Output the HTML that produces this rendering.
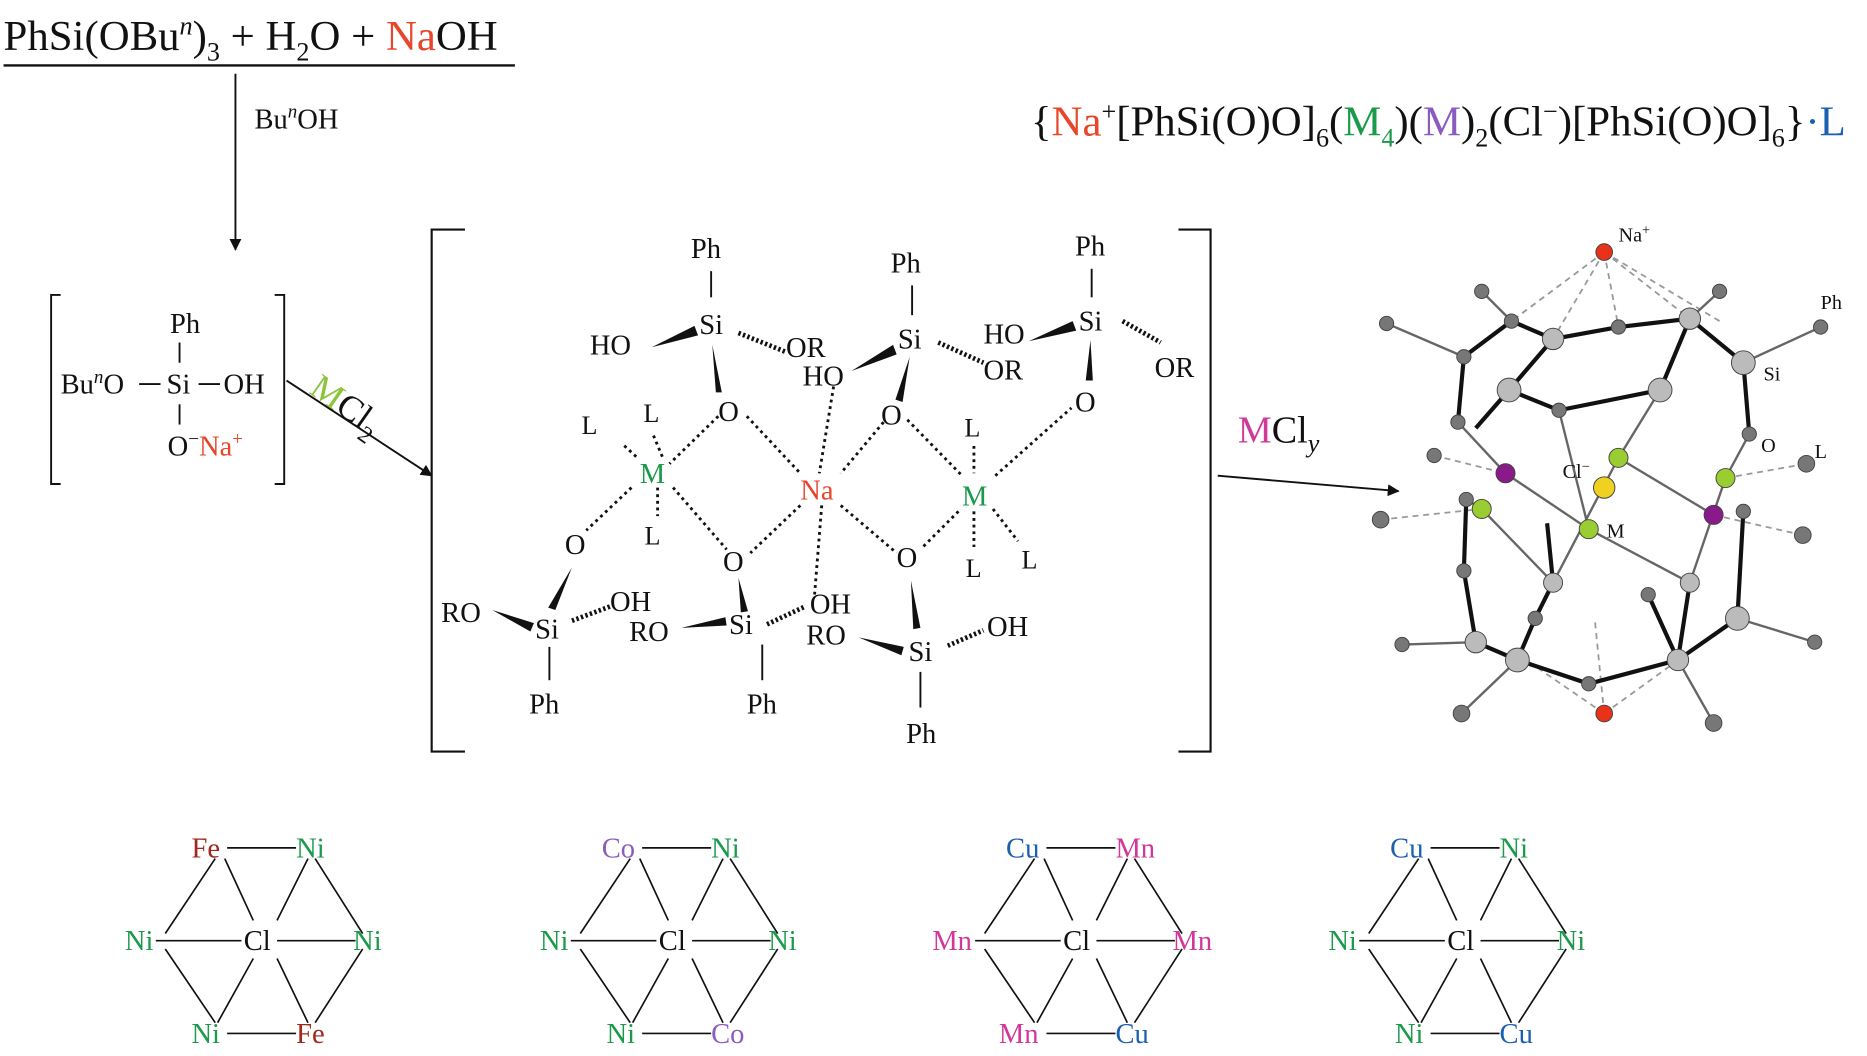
<!DOCTYPE html>
<html><head><meta charset="utf-8"><style>
html,body{margin:0;padding:0;background:#fff;}
svg{display:block;}
text{font-family:"Liberation Serif",serif;fill:#111;}
.g{fill:#1a9a4a}.r{fill:#e8452a}.b{fill:#1a5fb0}.p{fill:#8a5cc0}.m{fill:#d0399a}.br{fill:#a0281c}.lg{fill:#8cc43c}
</style></head><body>
<svg width="1867" height="1056" viewBox="0 0 1568 888" xmlns="http://www.w3.org/2000/svg">
<defs><marker id="ah" markerWidth="10" markerHeight="10" refX="9" refY="5" orient="auto" markerUnits="userSpaceOnUse"><path d="M0,0 L10,5 L0,10 z" fill="#111"/></marker></defs>
<text x="2" y="42" font-size="36">PhSi(OBu<tspan font-style="italic" font-size="22" dy="-13">n</tspan><tspan dy="13">)</tspan><tspan font-size="22" dy="9">3</tspan><tspan dy="-9"> + H</tspan><tspan font-size="22" dy="9">2</tspan><tspan dy="-9">O + </tspan><tspan class="r">Na</tspan>OH</text>
<line x1="2" y1="55" x2="432" y2="55" stroke="#111" stroke-width="2"/>
<line x1="197" y1="62" x2="197" y2="210" stroke="#111" stroke-width="1.6" marker-end="url(#ah)"/>
<text x="213" y="108" font-size="24">Bu<tspan font-style="italic" font-size="16" dy="-9">n</tspan><tspan dy="9">OH</tspan></text>
<path d="M50,248 H42 V407 H50 M230,248 H238 V407 H230" fill="none" stroke="#111" stroke-width="1.6"/>
<text x="142" y="280" font-size="24">Ph</text>
<line x1="150" y1="288" x2="150" y2="305" stroke="#111" stroke-width="1.6"/>
<text x="50" y="331" font-size="24">Bu<tspan font-style="italic" font-size="16" dy="-9">n</tspan><tspan dy="9">O</tspan></text>
<line x1="116" y1="323" x2="134" y2="323" stroke="#111" stroke-width="1.6"/>
<text x="139" y="331" font-size="24">Si</text>
<line x1="166" y1="323" x2="184" y2="323" stroke="#111" stroke-width="1.6"/>
<text x="187" y="331" font-size="24">OH</text>
<line x1="150" y1="340" x2="150" y2="357" stroke="#111" stroke-width="1.6"/>
<text x="140" y="383" font-size="24">O<tspan font-size="16" dy="-9">−</tspan><tspan dy="9" class="r">Na</tspan><tspan class="r" font-size="16" dy="-9">+</tspan></text>
<text x="0" y="0" font-size="30" transform="translate(258,330) rotate(35)"><tspan class="lg">M</tspan>Cl<tspan font-size="20" dy="8">2</tspan></text>
<line x1="240" y1="320" x2="362" y2="400" stroke="#111" stroke-width="1.6" marker-end="url(#ah)"/>
<path d="M390,193 H362 V632 H390 M990,193 H1017 V632 H990" fill="none" stroke="#111" stroke-width="1.8"/>
<g font-size="24">
<text x="580" y="217">Ph</text><line x1="597" y1="228" x2="597" y2="250" stroke="#111" stroke-width="1.6"/>
<text x="587" y="281">Si</text>
<text x="495" y="298">HO</text><path d="M547,292 L583,274 L586,282 z" fill="#111"/>
<line x1="620" y1="280" x2="660" y2="296" stroke="#111" stroke-width="4" stroke-dasharray="2,2"/>
<text x="660" y="300">OR</text>
<path d="M598,290 L606,330 L601,330 z" fill="#111"/>
<text x="603" y="354">O</text>
<text x="748" y="229">Ph</text><line x1="766" y1="240" x2="766" y2="265" stroke="#111" stroke-width="1.6"/>
<text x="754" y="293">Si</text>
<text x="674" y="324">HO</text><path d="M715,312 L750,290 L753,298 z" fill="#111"/>
<line x1="788" y1="288" x2="826" y2="305" stroke="#111" stroke-width="4" stroke-dasharray="2,2"/>
<text x="826" y="319">OR</text>
<path d="M764,300 L758,338 L752,336 z" fill="#111"/>
<text x="740" y="357">O</text>
<text x="903" y="215">Ph</text><line x1="917" y1="226" x2="917" y2="250" stroke="#111" stroke-width="1.6"/>
<text x="906" y="278">Si</text>
<text x="826" y="289">HO</text><path d="M864,287 L901,270 L904,278 z" fill="#111"/>
<line x1="943" y1="270" x2="975" y2="288" stroke="#111" stroke-width="4" stroke-dasharray="2,2"/>
<text x="970" y="317">OR</text>
<path d="M916,286 L918,320 L912,320 z" fill="#111"/>
<text x="903" y="346">O</text>
<text x="537" y="406" class="g">M</text>
<text x="808" y="425" class="g">M</text>
<text x="672" y="420" class="r">Na</text>
<g class="b" font-size="22"><text x="488" y="365">L</text><text x="540" y="355">L</text><text x="541" y="458">L</text>
<text x="810" y="367">L</text><text x="811" y="485">L</text><text x="858" y="478">L</text></g>
<text x="474" y="466">O</text>
<text x="607" y="480">O</text>
<text x="753" y="477">O</text>
<text x="370" y="523">RO</text><text x="449" y="537">Si</text>
<path d="M413,513 L448,524 L445,531 z" fill="#111"/>
<line x1="480" y1="522" x2="512" y2="510" stroke="#111" stroke-width="4" stroke-dasharray="2,2"/>
<text x="512" y="514">OH</text>
<path d="M480,477 L466,513 L460,511 z" fill="#111"/>
<line x1="461" y1="544" x2="461" y2="572" stroke="#111" stroke-width="1.6"/>
<text x="444" y="600">Ph</text>
<text x="528" y="539">RO</text><text x="612" y="533">Si</text>
<path d="M572,528 L609,519 L610,526 z" fill="#111"/>
<line x1="644" y1="525" x2="676" y2="510" stroke="#111" stroke-width="4" stroke-dasharray="2,2"/>
<text x="680" y="516">OH</text>
<path d="M620,486 L628,514 L622,515 z" fill="#111"/>
<line x1="640" y1="542" x2="640" y2="572" stroke="#111" stroke-width="1.6"/>
<text x="627" y="600">Ph</text>
<text x="677" y="542">RO</text><text x="763" y="556">Si</text>
<path d="M721,536 L759,544 L757,551 z" fill="#111"/>
<line x1="796" y1="543" x2="826" y2="530" stroke="#111" stroke-width="4" stroke-dasharray="2,2"/>
<text x="829" y="535">OH</text>
<path d="M765,488 L773,528 L767,529 z" fill="#111"/>
<line x1="773" y1="565" x2="773" y2="595" stroke="#111" stroke-width="1.6"/>
<text x="761" y="625">Ph</text>
</g>
<g stroke="#111" stroke-width="2.4" stroke-dasharray="2.4,3.2" fill="none">
<line x1="603" y1="350" x2="562" y2="390"/><line x1="534" y1="384" x2="522" y2="373"/><line x1="556" y1="384" x2="548" y2="365"/><line x1="552" y1="410" x2="552" y2="434"/>
<line x1="530" y1="410" x2="492" y2="446"/><line x1="565" y1="410" x2="610" y2="462"/>
<line x1="627" y1="350" x2="672" y2="398"/><line x1="700" y1="325" x2="688" y2="398"/><line x1="742" y1="355" x2="706" y2="398"/>
<line x1="690" y1="425" x2="684" y2="500"/><line x1="672" y1="425" x2="630" y2="465"/><line x1="706" y1="425" x2="753" y2="465"/>
<line x1="762" y1="353" x2="808" y2="400"/><line x1="836" y1="400" x2="900" y2="343"/><line x1="818" y1="375" x2="818" y2="398"/>
<line x1="818" y1="430" x2="818" y2="460"/><line x1="834" y1="428" x2="855" y2="455"/><line x1="805" y1="430" x2="775" y2="460"/>
</g>
<text x="866" y="114" font-size="36">{<tspan class="r">Na</tspan><tspan font-size="22" dy="-13">+</tspan><tspan dy="13">[PhSi(O)O]</tspan><tspan font-size="22" dy="9">6</tspan><tspan dy="-9">(</tspan><tspan class="g">M</tspan><tspan font-size="22" dy="9" class="g">4</tspan><tspan dy="-9">)(</tspan><tspan class="p">M</tspan>)<tspan font-size="22" dy="9">2</tspan><tspan dy="-9">(Cl</tspan><tspan font-size="22" dy="-13">−</tspan><tspan dy="13">)[PhSi(O)O]</tspan><tspan font-size="22" dy="9">6</tspan><tspan dy="-9">}</tspan><tspan class="b">·L</tspan></text>
<text x="1040" y="372" font-size="32"><tspan class="m">M</tspan>Cl<tspan font-size="22" dy="8" font-style="italic">y</tspan></text>
<line x1="1023" y1="400" x2="1175" y2="413" stroke="#111" stroke-width="1.6" marker-end="url(#ah)"/>
<g stroke="#999" stroke-width="1.5" stroke-dasharray="5,4" fill="none">
<path d="M1348,212 L1270,270 M1348,212 L1305,285 M1348,212 L1360,275 M1348,212 L1420,268 M1348,212 L1445,270 M1348,212 L1230,300"/>
<path d="M1348,600 L1275,550 M1348,600 L1420,548 M1348,600 L1340,520 M1160,437 L1245,428 M1205,383 L1265,398 M1450,402 L1518,390 M1440,433 L1515,450"/>
</g>
<g stroke="#111" stroke-width="3.5" fill="none">
<path d="M1270,270 L1305,285 L1360,275 L1420,268 L1465,305 L1470,365 M1270,270 L1230,300 L1225,355 M1305,285 L1268,328 L1310,345 L1395,328 L1420,268 M1268,328 L1240,360"/>
<path d="M1240,540 L1275,555 L1335,575 L1410,555 L1460,520 L1465,430 M1240,540 L1230,480 L1232,420 M1275,555 L1290,520 M1410,555 L1385,500 M1305,490 L1290,520 M1300,440 L1305,490 M1420,490 L1410,555"/>
</g>
<g stroke="#666" stroke-width="2" fill="none">
<path d="M1310,345 L1335,445 L1420,490 M1395,328 L1360,385 L1305,490 M1265,398 L1335,445 M1440,433 L1360,385 M1245,428 L1305,490 M1450,402 L1420,490 M1265,398 L1225,355 M1450,402 L1470,365 M1245,428 L1232,420"/>
<path d="M1465,305 L1530,275 M1230,300 L1165,272 M1270,270 L1245,245 M1420,268 L1445,245 M1240,540 L1178,542 M1460,520 L1525,540 M1275,555 L1228,600 M1410,555 L1440,608"/>
</g>
<g stroke="#444" stroke-width="0.8">
<g fill="#bbb"><circle cx="1305" cy="285" r="9"/><circle cx="1420" cy="268" r="9"/><circle cx="1465" cy="305" r="10"/><circle cx="1268" cy="328" r="10"/><circle cx="1395" cy="328" r="10"/><circle cx="1275" cy="555" r="10"/><circle cx="1410" cy="555" r="9"/><circle cx="1240" cy="540" r="9"/><circle cx="1460" cy="520" r="10"/><circle cx="1305" cy="490" r="8"/><circle cx="1420" cy="490" r="8"/></g>
<g fill="#777"><circle cx="1270" cy="270" r="6"/><circle cx="1360" cy="275" r="6"/><circle cx="1230" cy="300" r="6"/><circle cx="1310" cy="345" r="6"/><circle cx="1225" cy="355" r="6"/><circle cx="1470" cy="365" r="6"/><circle cx="1232" cy="420" r="6"/><circle cx="1465" cy="430" r="6"/><circle cx="1230" cy="480" r="6"/><circle cx="1290" cy="520" r="6"/><circle cx="1385" cy="500" r="6"/><circle cx="1335" cy="575" r="6"/><circle cx="1530" cy="275" r="6"/><circle cx="1165" cy="272" r="6"/><circle cx="1245" cy="245" r="6"/><circle cx="1445" cy="245" r="6"/><circle cx="1178" cy="542" r="6"/><circle cx="1525" cy="540" r="6"/><circle cx="1228" cy="600" r="7"/><circle cx="1440" cy="608" r="7"/><circle cx="1160" cy="437" r="7"/><circle cx="1205" cy="383" r="6"/><circle cx="1518" cy="390" r="7"/><circle cx="1515" cy="450" r="7"/></g>
<circle cx="1348" cy="212" r="7" fill="#e8321a"/><circle cx="1348" cy="600" r="7" fill="#e8321a"/>
<circle cx="1348" cy="410" r="9" fill="#f0d020"/>
<g fill="#9acd32"><circle cx="1360" cy="385" r="8"/><circle cx="1335" cy="445" r="8"/><circle cx="1245" cy="428" r="8"/><circle cx="1450" cy="402" r="8"/></g>
<g fill="#8a1a8a"><circle cx="1265" cy="398" r="8"/><circle cx="1440" cy="433" r="8"/></g>
</g>
<g font-size="17"><text x="1360" y="203">Na<tspan font-size="12" dy="-6">+</tspan></text><text x="1530" y="260">Ph</text><text x="1482" y="320">Si</text><text x="1480" y="380">O</text><text x="1525" y="385">L</text><text x="1313" y="402">Cl<tspan font-size="12" dy="-6">−</tspan></text><text x="1350" y="452">M</text></g>
<g font-size="24">
<g transform="translate(218,0)">
<text x="-58" y="721" class="br">Fe</text><text x="30" y="721" class="g">Ni</text><text x="-114" y="799" class="g">Ni</text><text x="-14" y="799">Cl</text><text x="78" y="799" class="g">Ni</text><text x="-58" y="877" class="g">Ni</text><text x="30" y="877" class="br">Fe</text>
</g>
<g transform="translate(567,0)">
<text x="-62" y="721" class="p">Co</text><text x="30" y="721" class="g">Ni</text><text x="-114" y="799" class="g">Ni</text><text x="-14" y="799">Cl</text><text x="78" y="799" class="g">Ni</text><text x="-58" y="877" class="g">Ni</text><text x="30" y="877" class="p">Co</text>
</g>
<g transform="translate(907,0)">
<text x="-62" y="721" class="b">Cu</text><text x="30" y="721" class="m">Mn</text><text x="-124" y="799" class="m">Mn</text><text x="-14" y="799">Cl</text><text x="78" y="799" class="m">Mn</text><text x="-68" y="877" class="m">Mn</text><text x="30" y="877" class="b">Cu</text>
</g>
<g transform="translate(1230,0)">
<text x="-62" y="721" class="b">Cu</text><text x="30" y="721" class="g">Ni</text><text x="-114" y="799" class="g">Ni</text><text x="-14" y="799">Cl</text><text x="78" y="799" class="g">Ni</text><text x="-58" y="877" class="g">Ni</text><text x="30" y="877" class="b">Cu</text>
</g>
</g>
<g stroke="#111" stroke-width="1.4" fill="none">
<path id="hx" d="M-28,713 H30 M-38,722 L-80,785 M46,722 L86,785 M-80,798 L-38,860 M86,798 L46,860 M-28,869 H30 M-88,791 H-16 M14,791 H80 M-30,722 L-6,774 M40,722 L14,774 M-6,806 L-36,860 M14,806 L40,860" transform="translate(218,0)"/>
<use href="#hx" transform="translate(349,0)"/>
<use href="#hx" transform="translate(689,0)"/>
<use href="#hx" transform="translate(1012,0)"/>
</g>
</svg>
</body></html>
